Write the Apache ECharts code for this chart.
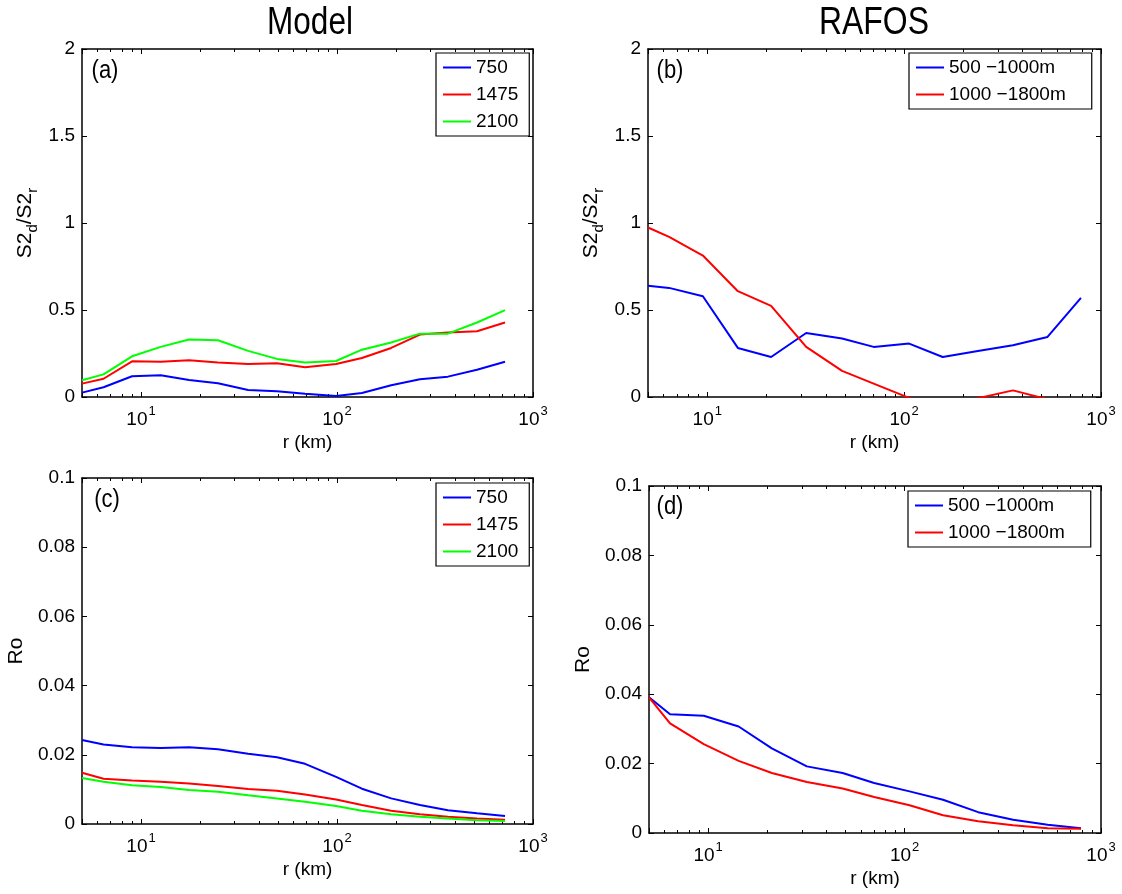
<!DOCTYPE html>
<html>
<head>
<meta charset="utf-8">
<script src="https://cdn.jsdelivr.net/npm/echarts@6/dist/echarts.min.js"></script>
<style>
html,body{margin:0;padding:0;background:#fff;}
#chart{width:1122px;height:894px;}
</style>
</head>
<body>
<div id="chart"></div>
<script>
// ---------------- data ----------------
const rRange = [5, 1000];
const xTickValues = [10, 100, 1000];
const s2Ticks = [0, 0.5, 1, 1.5, 2];
const roTicks = [0, 0.02, 0.04, 0.06, 0.08, 0.1];

const modelNames = ['750', '1475', '2100'];
const rafosNames = ['500 \u22121000m', '1000 \u22121800m'];

// separation r (km)
const rModel = [5, 6.44, 9.0, 12.6, 17.6, 24.7, 35.2, 49.4, 68.7, 98.9, 134, 189, 265, 368, 518, 720];
const rRafos = [5, 6.4, 9.5, 14.3, 21.1, 31.8, 48.4, 70, 106, 157, 237, 357, 535, 791];

// (a) Model S2d/S2r
const s2Model750  = [0.025, 0.056, 0.119, 0.125, 0.098, 0.079, 0.040, 0.033, 0.019, 0.006, 0.023, 0.067, 0.102, 0.117, 0.157, 0.203];
const s2Model1475 = [0.077, 0.105, 0.205, 0.203, 0.211, 0.198, 0.190, 0.194, 0.171, 0.190, 0.224, 0.282, 0.359, 0.370, 0.378, 0.428];
const s2Model2100 = [0.096, 0.130, 0.234, 0.288, 0.330, 0.326, 0.265, 0.219, 0.198, 0.207, 0.272, 0.313, 0.364, 0.364, 0.428, 0.499];

// (b) RAFOS S2d/S2r
const s2Rafos500  = [0.639, 0.627, 0.579, 0.282, 0.230, 0.368, 0.336, 0.288, 0.307, 0.230, 0.265, 0.297, 0.345, 0.570];
const s2Rafos1000 = [0.974, 0.920, 0.813, 0.608, 0.524, 0.288, 0.150, 0.077, -0.005, -0.080, -0.007, 0.038, -0.013, -0.050];

// (c) Model Ro
const roModel750  = [0.0243, 0.0230, 0.0222, 0.0220, 0.0222, 0.0216, 0.0203, 0.0193, 0.0174, 0.0136, 0.0102, 0.0074, 0.0055, 0.0040, 0.0031, 0.0023];
const roModel1475 = [0.0148, 0.0131, 0.0126, 0.0122, 0.0117, 0.0110, 0.0101, 0.0096, 0.0085, 0.0071, 0.0055, 0.0038, 0.0028, 0.0021, 0.0016, 0.0012];
const roModel2100 = [0.0133, 0.0122, 0.0112, 0.0107, 0.0098, 0.0093, 0.0083, 0.0074, 0.0064, 0.0052, 0.0038, 0.0028, 0.0021, 0.0016, 0.0011, 0.0009];

// (d) RAFOS Ro
const roRafos500  = [0.0391, 0.0342, 0.0338, 0.0307, 0.0244, 0.0192, 0.0173, 0.0144, 0.0120, 0.0096, 0.0060, 0.0038, 0.0024, 0.0014];
const roRafos1000 = [0.0391, 0.0316, 0.0256, 0.0208, 0.0173, 0.0147, 0.0128, 0.0104, 0.0080, 0.0051, 0.0034, 0.0022, 0.0014, 0.0012];

// ---------------- styling / layout ----------------
const FONT = "'Liberation Sans', Arial, Helvetica, sans-serif";
const BLUE = '#0000ff', RED = '#ff0000', GREEN = '#00ff00';

const panels = [
  { grid: {left: 82, top: 49, width: 451, height: 348}, ticks: s2Ticks, yName: '{m|S2}{sub|d}{m|/S2}{sub|r}', yGap: 43,
    legendPos: {left: 436, top: 53}, legendNames: modelNames, legendPad: [5, 11, 5, 7],
    series: [[rModel, s2Model750, BLUE], [rModel, s2Model1475, RED], [rModel, s2Model2100, GREEN]], names: modelNames },
  { grid: {left: 648, top: 49, width: 453, height: 348}, ticks: s2Ticks, yName: '{m|S2}{sub|d}{m|/S2}{sub|r}', yGap: 43,
    legendPos: {left: 909, top: 53}, legendNames: rafosNames, legendPad: [5, 26, 5, 7],
    series: [[rRafos, s2Rafos500, BLUE], [rRafos, s2Rafos1000, RED]], names: rafosNames },
  { grid: {left: 82, top: 478, width: 451, height: 346}, ticks: roTicks, yName: '{m|Ro}', yGap: 52,
    legendPos: {left: 436, top: 483}, legendNames: modelNames, legendPad: [5, 11, 5, 7],
    series: [[rModel, roModel750, BLUE], [rModel, roModel1475, RED], [rModel, roModel2100, GREEN]], names: modelNames },
  { grid: {left: 649, top: 486, width: 452, height: 347}, ticks: roTicks, yName: '{m|Ro}', yGap: 52,
    legendPos: {left: 908, top: 491}, legendNames: rafosNames, legendPad: [5, 26, 5, 7],
    series: [[rRafos, roRafos500, BLUE], [rRafos, roRafos1000, RED]], names: rafosNames }
];

const axisLineStyle = {color: '#000', width: 1.5};
const tickLineStyle = {color: '#000', width: 1};

function xLabelFormatter(v) {
  const e = Math.round(Math.log10(v));
  if (Math.abs(Math.pow(10, e) - v) > 1e-6 * v) return '';
  if (xTickValues.indexOf(Math.pow(10, e)) < 0) return '';
  return '{b|10}{s|' + e + '}';
}

function label(text, x, y, size, sx) {
  return {type: 'text', x: x, y: y, scaleX: sx, style: {text: text, font: size + 'px ' + FONT, fill: '#000',
    align: 'center', verticalAlign: 'middle', textAlign: 'center', textVerticalAlign: 'middle'}};
}

const option = {
  animation: false,
  backgroundColor: '#fff',
  grid: [], xAxis: [], yAxis: [], series: [], legend: [],
  graphic: [
    label('Model', 310, 24, 38, 0.83),
    label('RAFOS', 874, 24, 38, 0.84),
    label('(a)', 105, 71, 25, 0.88),
    label('(b)', 670, 71, 25, 0.88),
    label('(c)', 107, 500, 25, 0.88),
    label('(d)', 670, 507, 25, 0.88)
  ]
};

panels.forEach(function (p, gi) {
  option.grid.push(Object.assign({containLabel: false}, p.grid));

  const xCommon = {
    type: 'log', logBase: 10, min: rRange[0], max: rRange[1], gridIndex: gi,
    splitLine: {show: false}, minorSplitLine: {show: false},
    axisLine: {show: true, onZero: false, lineStyle: axisLineStyle},
    axisTick: {show: true, inside: true, length: 5, lineStyle: tickLineStyle},
    minorTick: {show: true, splitNumber: 9, length: 3, lineStyle: tickLineStyle}
  };
  option.xAxis.push(Object.assign({}, xCommon, {
    position: 'bottom',
    name: 'r (km)', nameLocation: 'middle', nameGap: 36,
    nameTextStyle: {fontSize: 19, fontFamily: FONT, color: '#000'},
    axisLabel: {
      show: true, margin: 9, formatter: xLabelFormatter, showMinLabel: true, showMaxLabel: true,
      rich: {
        b: {fontSize: 19, fontFamily: FONT, color: '#000', lineHeight: 19, padding: [8, 0, 0, 0]},
        s: {fontSize: 13, fontFamily: FONT, color: '#000', lineHeight: 13, padding: [3, 0, 11, 1]}
      }
    }
  }));
  option.xAxis.push(Object.assign({}, xCommon, {position: 'top', axisLabel: {show: false}}));

  const yCommon = {
    type: 'value', gridIndex: gi, min: p.ticks[0], max: p.ticks[p.ticks.length - 1],
    interval: p.ticks[1] - p.ticks[0],
    splitLine: {show: false},
    axisLine: {show: true, onZero: false, lineStyle: axisLineStyle},
    axisTick: {show: true, inside: true, length: 5, lineStyle: tickLineStyle}
  };
  option.yAxis.push(Object.assign({}, yCommon, {
    position: 'left',
    axisLabel: {show: true, margin: 7, fontSize: 19, fontFamily: FONT, color: '#000'},
    name: p.yName, nameLocation: 'middle', nameRotate: 90, nameGap: p.yGap,
    nameTextStyle: {
      color: '#000',
      rich: {
        m: {fontSize: 21, fontFamily: FONT, color: '#000', lineHeight: 21, padding: [0, 0, 6, 0]},
        sub: {fontSize: 15, fontFamily: FONT, color: '#000', lineHeight: 15, padding: [10, 0, 2, 0]}
      }
    }
  }));
  option.yAxis.push(Object.assign({}, yCommon, {position: 'right', axisLabel: {show: false}}));

  p.series.forEach(function (s, k) {
    option.series.push({
      type: 'line', name: p.names[k], xAxisIndex: 2 * gi, yAxisIndex: 2 * gi,
      data: s[0].map(function (r, i) { return [r, s[1][i]]; }),
      symbol: 'none', showSymbol: false, clip: true,
      lineStyle: {color: s[2], width: 2}, itemStyle: {color: s[2]},
      emphasis: {disabled: true}
    });
  });

  option.legend.push({
    orient: 'vertical', left: p.legendPos.left, top: p.legendPos.top,
    data: p.legendNames, selectedMode: false,
    icon: 'rect', itemWidth: 28, itemHeight: 2, itemGap: 8, padding: p.legendPad,
    borderColor: '#000', borderWidth: 1.2, backgroundColor: '#fff', borderRadius: 0,
    textStyle: {fontSize: 19, fontFamily: FONT, color: '#000'}
  });
});

const chart = echarts.init(document.getElementById('chart'), null, {renderer: 'canvas', width: 1122, height: 894});
chart.setOption(option);
</script>
</body>
</html>
